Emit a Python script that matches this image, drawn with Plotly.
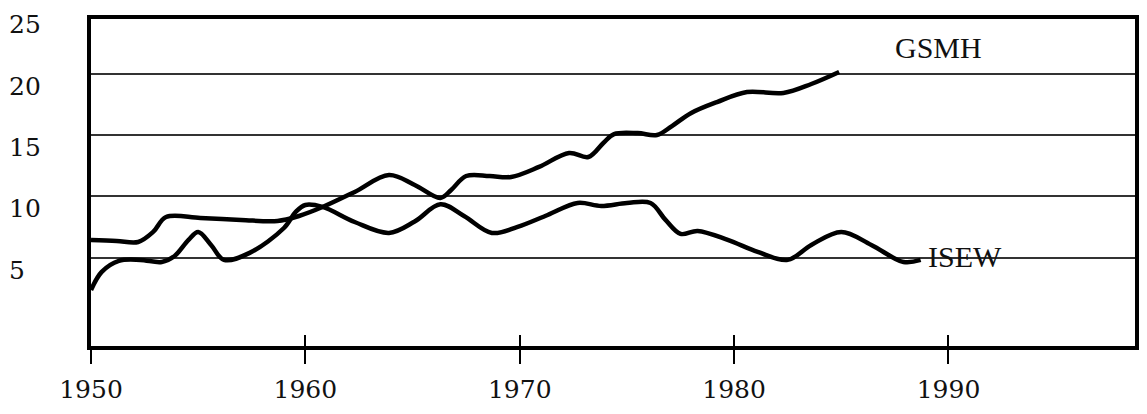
import plotly.graph_objects as go

# ---- data ----
gsmh_years = [1950.0, 1951.2, 1952.2, 1952.9, 1953.5, 1955.1, 1957.0, 1958.7, 1959.7,
              1960.8, 1962.3, 1963.9, 1965.1, 1966.3, 1966.8, 1967.5, 1968.6, 1969.6,
              1970.9, 1972.3, 1973.2, 1973.9, 1974.4, 1975.5, 1976.4, 1977.1, 1978.0,
              1979.2, 1980.6, 1982.3, 1983.6, 1984.9]
gsmh_values = [6.45, 6.37, 6.28, 7.10, 8.32, 8.24, 8.08, 7.99, 8.40,
               9.13, 10.36, 11.74, 10.93, 9.87, 10.52, 11.66, 11.66, 11.58,
               12.40, 13.54, 13.21, 14.35, 15.08, 15.16, 15.00, 15.73, 16.80,
               17.69, 18.51, 18.43, 19.16, 20.14]

isew_years = [1950.0, 1950.5, 1951.3, 1952.3, 1953.3, 1953.9, 1954.55, 1955.0, 1955.6,
              1956.2, 1957.4, 1959.0, 1959.55, 1960.0, 1960.8, 1962.3, 1963.9, 1965.1,
              1966.3, 1967.4, 1968.7, 1969.9, 1971.3, 1972.7, 1973.8, 1975.0, 1976.1,
              1976.8, 1977.5, 1978.3, 1979.7, 1981.1, 1982.5, 1983.6, 1985.0, 1986.4,
              1987.9, 1988.7]
isew_values = [2.36, 3.84, 4.74, 4.82, 4.65, 5.14, 6.45, 7.10, 6.04,
               4.82, 5.39, 7.42, 8.73, 9.30, 9.14, 7.91, 7.02, 7.95,
               9.35, 8.40, 7.02, 7.51, 8.48, 9.46, 9.22, 9.46, 9.46,
               8.08, 6.94, 7.18, 6.45, 5.47, 4.82, 6.04, 7.10, 6.04,
               4.65, 4.82]

x_ticks = [1950, 1960, 1970, 1980, 1990]
y_grid = [5, 10, 15, 20]
y_labels = [25, 20, 15, 10, 5]

SERIF = "DejaVu Serif"
TIMES = "Liberation Serif"

fig = go.Figure()
line_style = dict(color="black", width=4.5, shape="spline", smoothing=1.0)
fig.add_trace(go.Scatter(x=gsmh_years, y=gsmh_values, mode="lines",
                         line=line_style, name="GSMH", hoverinfo="skip"))
fig.add_trace(go.Scatter(x=isew_years, y=isew_values, mode="lines",
                         line=line_style, name="ISEW", hoverinfo="skip"))
# invisible trace on the overlay axis so its ticks render
fig.add_trace(go.Scatter(x=[x_ticks[0]], y=[y_grid[0]], xaxis="x2", mode="markers",
                         marker=dict(opacity=0), showlegend=False, hoverinfo="skip"))

xr = [1950, 1998.7]
yr = [-2.2, 24.46]

fig.update_layout(
    width=1147, height=414,
    margin=dict(l=91, r=8, t=19, b=68),
    paper_bgcolor="white", plot_bgcolor="white",
    showlegend=False,
    xaxis=dict(range=xr, tickvals=x_ticks, ticktext=[str(v) for v in x_ticks],
               ticks="outside", ticklen=14, tickwidth=2, tickcolor="black",
               ticklabelstandoff=4,
               showline=True, linewidth=4, linecolor="black", mirror=True,
               showgrid=False, zeroline=False,
               tickfont=dict(family=SERIF, size=25, color="#111")),
    xaxis2=dict(range=xr, overlaying="x", tickvals=x_ticks, ticks="inside",
                ticklen=11, tickwidth=2, tickcolor="black", showticklabels=False,
                showline=False, showgrid=False, zeroline=False, side="bottom",
                anchor="y"),
    yaxis=dict(range=yr, tickvals=y_grid, showticklabels=False, ticks="",
               showline=True, linewidth=4, linecolor="black", mirror=True,
               showgrid=True, gridcolor="#333", gridwidth=1.6, zeroline=False),
)

# y labels: placed through the y scale, converted to paper fraction so that
# the top label (beyond the axis range) is not hidden
for v in y_labels:
    frac = (v - yr[0]) / (yr[1] - yr[0])
    fig.add_annotation(x=0, xref="paper", xanchor="left", xshift=-84,
                       y=frac, yref="paper", yanchor="middle", yshift=-12.5,
                       text=str(v), showarrow=False,
                       font=dict(family=SERIF, size=25, color="#111"))

fig.add_annotation(x=1989.55, y=22.1, xref="x", yref="y", text="GSMH",
                   showarrow=False, xanchor="center", yanchor="middle",
                   font=dict(family=TIMES, size=30, color="#111"))
fig.add_annotation(x=1988.96, y=5.13, xref="x", yref="y", text="ISEW",
                   showarrow=False, xanchor="left", yanchor="middle",
                   font=dict(family=TIMES, size=30, color="#111"))

fig.write_html("out.html")
